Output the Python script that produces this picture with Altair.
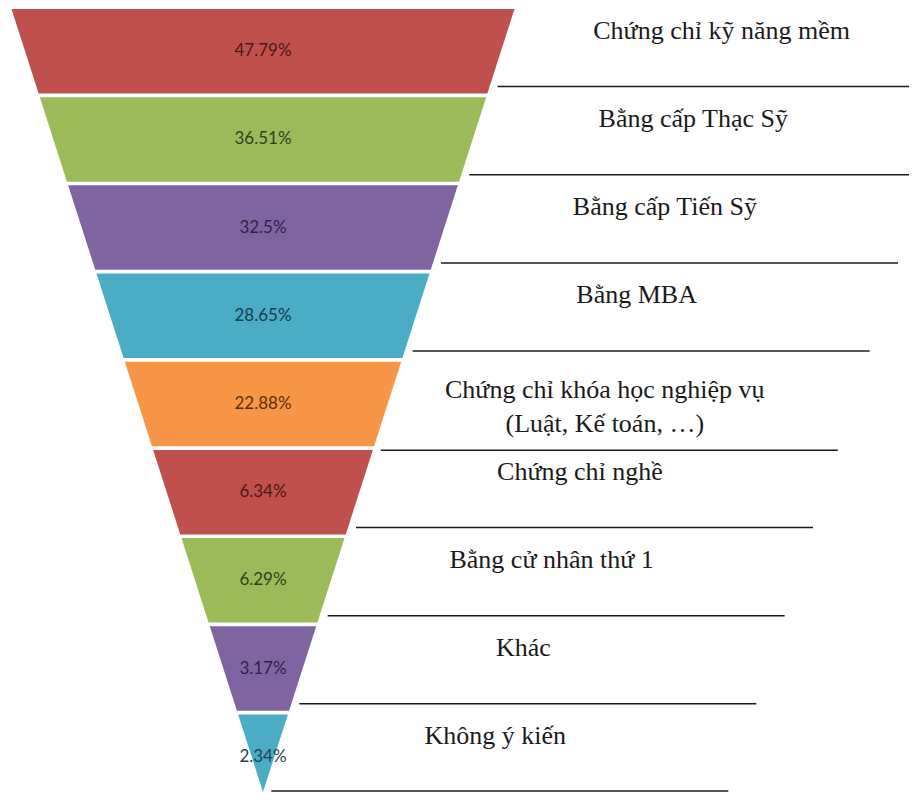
import altair as alt
import pandas as pd

categories = [
    "Chứng chỉ kỹ năng mềm",
    "Bằng cấp Thạc Sỹ",
    "Bằng cấp Tiến Sỹ",
    "Bằng MBA",
    "Chứng chỉ khóa học nghiệp vụ\n(Luật, Kế toán, …)",
    "Chứng chỉ nghề",
    "Bằng cử nhân thứ 1",
    "Khác",
    "Không ý kiến",
]
values = [47.79, 36.51, 32.5, 28.65, 22.88, 6.34, 6.29, 3.17, 2.34]
fill_colors = ["#C0504D", "#9BBB59", "#8064A2", "#4BACC6", "#F79646",
               "#C0504D", "#9BBB59", "#8064A2", "#4BACC6"]
label_colors = ["#4a1817", "#2d4318", "#2f2247", "#163c49", "#5a300f",
                "#4a1817", "#2d4318", "#2f2247", "#1f4450"]

# funnel geometry (layout only)
TOP, APEX, CX, HALF = 10, 798, 263, 251.5
PITCH, SEG_H = 88.75, 85


def half(y):
    return HALF * (APEX - y) / (APEX - TOP)


seg_rows, pct_rows, line_rows, lab_rows = [], [], [], []
for i, (c, v, fc, lc) in enumerate(zip(categories, values, fill_colors, label_colors)):
    top = TOP + i * PITCH
    bot = min(top + SEG_H, APEX)
    for y in (top, bot):
        seg_rows.append(dict(cat=c, y=y, xl=CX - half(y), xr=CX + half(y), fill=fc))
    pct_rows.append(dict(x=CX, y=top + SEG_H / 2, t=f"{v}%", color=lc))
    nlines = c.count("\n") + 1
    ly = min(top + 78 + (11 if nlines > 1 else 0), APEX - 1)
    x0 = CX + half(ly) + 8
    line_rows.append(dict(y=ly, x0=x0, x1=x0 + 457))
    lab_rows.append(dict(x=x0 + 224, y=top + (28 if nlines > 1 else 22), t=c))

seg_df = pd.DataFrame(seg_rows)
pct_df = pd.DataFrame(pct_rows)
line_df = pd.DataFrame(line_rows)
lab_df = pd.DataFrame(lab_rows)

xs = alt.Scale(domain=[8, 909], nice=False, zero=False)
ys = alt.Scale(domain=[9, 799], nice=False, zero=False, reverse=True)

areas = alt.Chart(seg_df).mark_area(orient="horizontal").encode(
    y=alt.Y("y:Q", scale=ys, axis=None),
    x=alt.X("xl:Q", scale=xs, axis=None),
    x2="xr:Q",
    fill=alt.Fill("fill:N", scale=None),
    detail="cat:N",
)

pcts = alt.Chart(pct_df).mark_text(font="Lato", fontSize=17, baseline="middle", align="center").encode(
    x=alt.X("x:Q", scale=xs, axis=None),
    y=alt.Y("y:Q", scale=ys, axis=None),
    text="t:N",
    color=alt.Color("color:N", scale=None),
)

rules = alt.Chart(line_df).mark_rule(color="#1a1a1a", strokeWidth=1.5).encode(
    x=alt.X("x0:Q", scale=xs, axis=None),
    x2="x1:Q",
    y=alt.Y("y:Q", scale=ys, axis=None),
)

labels = alt.Chart(lab_df).mark_text(
    font="Liberation Serif", fontSize=26, baseline="middle", align="center",
    lineBreak="\n", lineHeight=34, color="#1a1a1a",
).encode(
    x=alt.X("x:Q", scale=xs, axis=None),
    y=alt.Y("y:Q", scale=ys, axis=None),
    text="t:N",
)

chart = alt.layer(areas, rules, pcts, labels).properties(
    width=901, height=785, padding=0, autosize=alt.AutoSizeParams(type="none"),
    background="white",
).configure_view(stroke=None)

chart.save("out.html", embed_options={"renderer": "svg", "actions": False})
